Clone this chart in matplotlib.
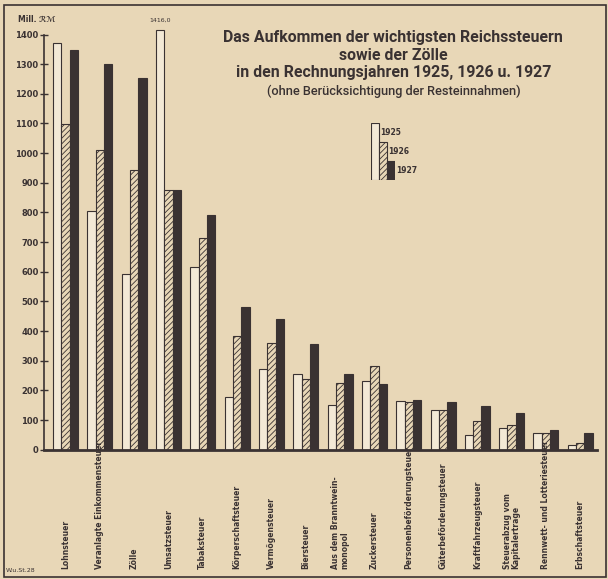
import matplotlib.pyplot as plt
import matplotlib.transforms as mtransforms
from matplotlib.patches import Rectangle
import numpy as np

plt.rcParams['hatch.linewidth'] = 0.6

paper = '#e8d7b7'
ink = '#3a3232'

taxes = ['Lohnsteuer', 'Veranlagte Einkommensteuer', 'Zölle', 'Umsatzsteuer',
         'Tabaksteuer', 'Körperschaftsteuer', 'Vermögensteuer', 'Biersteuer',
         'Aus dem Branntwein-\nmonopol', 'Zuckersteuer', 'Personenbeförderungsteuer',
         'Güterbeförderungsteuer', 'Kraftfahrzeugsteuer', 'Steuerabzug vom\nKapitalertrage',
         'Rennwett- und Lotteriesteuer', 'Erbschaftsteuer']
v1925 = [1370, 806, 591, 1416, 617, 178, 271, 256, 150, 233, 165, 135, 49, 74, 55, 16]
v1926 = [1097, 1011, 944, 875, 714, 385, 359, 239, 225, 282, 161, 135, 96, 83, 55, 22]
v1927 = [1349, 1302, 1252, 875, 793, 480, 441, 357, 256, 223, 167, 161, 147, 124, 65, 57]
years = ['1925', '1926', '1927']
yticks = list(range(0, 1401, 100))

fig = plt.figure(figsize=(6.08, 5.79), dpi=100)
fig.patch.set_facecolor(paper)
ax = fig.add_axes([0.0724, 0.2233, 0.9096, 0.7273])
ax.set_facecolor(paper)

x = np.arange(len(taxes))
w = 0.243
ax.bar(x - w, v1925, w, color='#f3e9d6', edgecolor=ink, linewidth=0.8)
ax.bar(x, v1926, w, color=paper, edgecolor=ink, hatch='//////', linewidth=0.8)
ax.bar(x + w, v1927, w, color=ink, edgecolor=ink, linewidth=0.8)

ax.set_xlim(-0.63, 15.49)
ax.set_ylim(0, 1420)
ax.set_yticks(yticks)
ax.set_yticklabels([str(t) for t in yticks], fontsize=6, color=ink, fontweight='bold')
ax.tick_params(axis='y', direction='inout', length=6, width=1, color=ink, pad=1)
ax.tick_params(axis='x', length=0, labelbottom=False)
for s in ['top', 'right']:
    ax.spines[s].set_visible(False)
ax.spines['left'].set_bounds(0, 1400)
ax.spines['left'].set_color(ink)
ax.spines['left'].set_linewidth(1.2)
ax.spines['bottom'].set_color(ink)
ax.spines['bottom'].set_linewidth(2)

# value above the Umsatzsteuer bar
ax.text(3 - w, 1416 + 25, '1416,0', ha='center', va='bottom', fontsize=4.5, color=ink)

# rotated category labels, anchored at the bottom
trans = mtransforms.blended_transform_factory(ax.transData, fig.transFigure)
for i, name in enumerate(taxes):
    ax.text(i, 0.018, name, transform=trans, rotation=90, ha='center', va='bottom',
            fontsize=5.5, color=ink, fontweight='bold', linespacing=1.0, ma='left')

fig.text(0.03, 0.962, 'Mill. ℛℳ', fontsize=5.5, color=ink, fontweight='bold')
fig.text(0.01, 0.012, 'W.u.St.28', fontsize=4.5, color=ink)

# title
title_font = ['Roboto', 'DejaVu Sans']
fig.text(0.647, 0.935, 'Das Aufkommen der wichtigsten Reichssteuern', ha='center', va='center',
         fontsize=11.4, fontweight='bold', color=ink, family=title_font)
fig.text(0.647, 0.905, 'sowie der Zölle', ha='center', va='center',
         fontsize=11.4, fontweight='bold', color=ink, family=title_font)
fig.text(0.647, 0.874, 'in den Rechnungsjahren 1925, 1926 u. 1927', ha='center', va='center',
         fontsize=11.4, fontweight='bold', color=ink, family=title_font)
fig.text(0.647, 0.842, '(ohne Berücksichtigung der Resteinnahmen)', ha='center', va='center',
         fontsize=9.2, fontweight='medium', color=ink, family=title_font)

# legend as small inset bars
lax = fig.add_axes([0.611, 0.689, 0.039, 0.099])
lax.set_facecolor('none')
lax.bar([0], [3], 1, color='#f3e9d6', edgecolor=ink, linewidth=0.8)
lax.bar([1], [2], 1, color=paper, edgecolor=ink, hatch='//////', linewidth=0.8)
lax.bar([2], [1], 1, color=ink, edgecolor=ink, linewidth=0.8)
lax.set_xlim(-0.5, 2.5)
lax.set_ylim(0, 3)
lax.axis('off')
for i, yr in enumerate(years):
    lax.text(i + 0.6, 3 - i - 0.5, yr, fontsize=5.5, fontweight='bold', color=ink,
             ha='left', va='center', clip_on=False)

fig.patches.append(Rectangle((0.006, 0.004), 0.99, 0.988, transform=fig.transFigure,
                             fill=False, edgecolor=ink, linewidth=1.2))

fig.savefig('out.png', dpi=100, facecolor=paper)
